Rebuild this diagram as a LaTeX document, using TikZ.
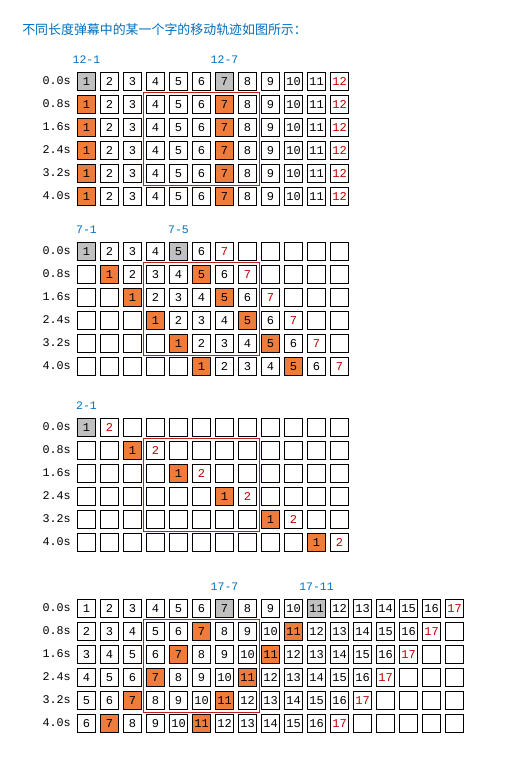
\documentclass[tikz,border=0pt]{standalone}
\usepackage{fontspec}
\setmonofont{Liberation Mono}
\newfontfamily\cjk{Noto Sans CJK SC}
\usepackage{tikz}
\usetikzlibrary{positioning,calc}
\usepackage{xcolor}
\definecolor{titleblue}{RGB}{0,112,192}
\definecolor{cellgray}{RGB}{192,192,192}
\definecolor{cellorange}{RGB}{240,124,60}
\definecolor{numred}{RGB}{192,0,0}
\definecolor{zonered}{RGB}{190,30,30}

\begin{document}
\begin{tikzpicture}[
    x=0.75pt, y=-0.75pt,
    cell/.style={rectangle, draw, line width=0.75pt, minimum size=13.5pt, inner sep=0pt, font=\ttfamily\fontsize{9}{10}\selectfont},
    lastcell/.style={cell, text=numred},
    startcell/.style={cell, fill=cellgray},
    markcell/.style={cell, fill=cellorange},
    timelabel/.style={anchor=east, inner sep=0pt, font=\ttfamily\fontsize{8.8}{10}\selectfont},
    tag/.style={inner sep=0pt, text=titleblue, font=\ttfamily\fontsize{8.6}{10}\selectfont},
    zone/.style={draw=zonered, line width=0.8pt}
]
    \useasboundingbox[fill=white] (0,0) rectangle (507,771);

    % Title
    \node[anchor=west, inner sep=0pt, text=titleblue, font=\cjk\fontsize{9.7}{11}\selectfont] (title) at (22,30) {不同长度弹幕中的某一个字的移动轨迹如图所示：};

    % One block per length: name/top row/length/columns/shift per row/marked chars
    \foreach \blk/\ytop/\len/\ncols/\shift/\ma/\mb in {a/81/12/12/0/1/7, b/251/7/12/1/1/5, c/427/2/12/2/1/0, d/608/17/17/-1/7/11} {
        \foreach \t [count=\r from 0] in {0.0s,0.8s,1.6s,2.4s,3.2s,4.0s} {
            \node[timelabel] (\blk-t\r) at (71,\ytop+23*\r) {\t};
            \ifnum\r=0 \def\hot{startcell}\else\def\hot{markcell}\fi
            \foreach \c in {1,...,\ncols} {
                \pgfmathtruncatemacro\val{\c-(\shift)*\r}
                \def\sty{cell}\def\txt{}
                \ifnum\val>0 \ifnum\val<\numexpr\len+1\relax
                    \let\txt\val
                    \ifnum\val=\len \def\sty{lastcell}\fi
                    \ifnum\val=\ma \let\sty\hot\fi
                    \ifnum\val=\mb \let\sty\hot\fi
                \fi\fi
                \node[\sty] (\blk-\r-\c) at (63.5+23*\c,\ytop+0.5+23*\r) {\txt};
            }
        }
        % Screen area
        \draw[zone] ($(\blk-1-4.north west)+(-2.5,-2.5)$) rectangle ($(\blk-4-8.south east)+(2.5,2.5)$);
        % Char labels
        \node[tag] (\blk-m\ma) at ($(\blk-0-\ma)+(0,-22)$) {\len-\ma};
        \ifnum\mb>0 \node[tag] (\blk-m\mb) at ($(\blk-0-\mb)+(0,-22)$) {\len-\mb};\fi
    }
\end{tikzpicture}
\end{document}
